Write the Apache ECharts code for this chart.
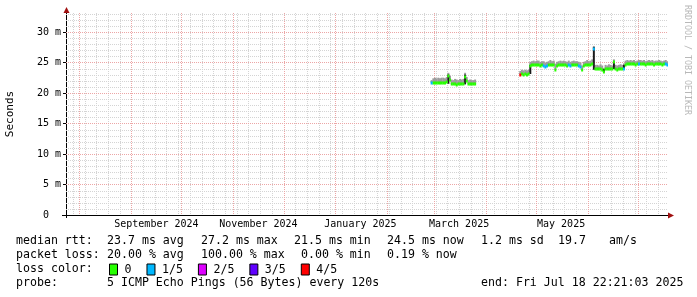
<!DOCTYPE html>
<html><head><meta charset="utf-8">
<script src="https://cdn.jsdelivr.net/npm/echarts@6/dist/echarts.min.js"></script>
<style>html,body{margin:0;padding:0;background:#fff}#c{width:697px;height:297px}</style>
</head><body><div id="c"></div>
<script>
const DAY = 86400000;
const ms = s => Date.parse(s + 'T00:00:00Z');
const xStart = Date.UTC(2024, 6, 23, 22, 21, 3);
const xEnd = Date.UTC(2025, 6, 18, 22, 21, 3);
const yMax = 33.1;

const yTicks = [0, 5, 10, 15, 20, 25, 30];
const yTickLabels = ['0  ', '5 m', '10 m', '15 m', '20 m', '25 m', '30 m'];
const monthLabels = ['September 2024', 'November 2024', 'January 2025', 'March 2025', 'May 2025'];
const monthLabelDates = ['2024-09-16', '2024-11-16', '2025-01-16', '2025-03-16', '2025-05-16'];
const monthLines = ['2024-08-01','2024-09-01','2024-10-01','2024-11-01','2024-12-01','2025-01-01',
  '2025-02-01','2025-03-01','2025-04-01','2025-05-01','2025-06-01','2025-07-01'];
const firstWeekLine = '2024-07-28';

// segment 1 : daily values from 2025-02-27 (ms)
const seg1Start = '2025-02-27';
const seg1Median = [21.6,21.7,21.6,21.7,21.6,21.6,21.7,21.6,21.7,21.8,22.8,22.1,21.5,21.4,21.5,21.3,21.4,21.5,21.4,21.5,22.6,21.9,21.5,21.5,21.4,21.5,21.5];
const seg1Max = [22.1,22.4,22.5,22.4,22.5,22.4,22.5,22.5,22.4,22.6,23.3,22.8,22.2,22.1,22.3,22.2,22.1,22.3,22.2,22.3,23.3,22.6,22.1,22.2,22.1,22.1,22.2];
const seg1Loss = [1,0,0,0,0,0,0,0,0,0,0,0,0,0,0,0,0,0,0,0,0,0,0,0,0,0,0];

// segment 2 : daily values from 2025-04-21 (ms)
const seg2Start = '2025-04-21';
const seg2Median = [23.0,23.1,23.0,23.1,23.0,23.1,
  24.4,
  24.5,24.6,24.5,24.6,24.5,24.4,24.5,24.4,24.3,24.4,24.5,24.6,24.5,24.5,23.8,24.4,24.5,24.6,24.5,24.6,24.5,24.4,24.5,24.4,24.5,24.6,24.5,24.5,24.4,24.3,23.7,24.4,24.5,24.6,24.5,24.6,24.7,
  27.2,
  24.0,23.9,23.9,24.0,23.8,23.4,23.9,23.9,24.0,23.9,23.9,25.0,23.9,23.8,23.9,24.0,23.9,
  24.0,
  24.6,24.7,24.7,24.8,24.7,24.7,24.6,24.7,24.7,24.8,24.7,24.7,24.6,24.7,24.8,24.7,24.7,24.6,24.7,24.7,24.8,24.7,24.6,24.7,24.7,24.5];
const seg2Max = [23.6,23.8,23.7,23.8,23.7,23.8,
  25.1,
  25.2,25.3,25.2,25.3,25.3,25.1,25.2,25.2,25.0,25.1,25.2,25.4,25.2,25.3,24.8,25.1,25.2,25.3,25.2,25.3,25.2,25.1,25.3,25.1,25.2,25.3,25.2,25.2,25.1,25.0,24.5,25.1,25.2,25.4,25.2,25.3,25.5,
  27.7,
  24.6,24.6,24.5,24.7,24.5,24.1,24.6,24.5,24.7,24.6,24.5,25.5,24.6,24.5,24.6,24.7,24.6,
  24.8,
  25.3,25.4,25.3,25.4,25.3,25.4,25.2,25.3,25.4,25.4,25.3,25.4,25.2,25.3,25.4,25.3,25.4,25.2,25.3,25.3,25.4,25.3,25.2,25.3,25.4,25.2];
const seg2Loss = [4,0,0,0,0,0,0,0,0,0,0,0,0,0,
  1,1,1,
  0,0,0,0,0,0,0,0,0,0,0,0,
  1,1,
  0,0,0,0,
  1,1,
  0,0,0,0,0,0,0,
  1,
  0,0,0,0,0,0,0,0,0,0,0,0,0,0,0,0,0,
  1,
  0,0,0,0,0,0,0,0,
  1,
  0,0,0,0,0,0,0,0,0,0,0,0,0,0,0,
  1,1];

// dense (dark) smoke columns
const darkDates = ['2025-03-09','2025-03-19','2025-04-27','2025-06-04','2025-06-10','2025-06-16','2025-06-22'];
const darkLow = [21.5, 21.4, 23.1, 23.8, 23.4, 23.9, 23.9];
const darkHigh = [23.0, 23.0, 24.6, 27.5, 23.9, 25.0, 24.6];

const lossNames = ['0', '1/5', '2/5', '3/5', '4/5'];
const lossColors = ['#26ff00', '#00b8ff', '#dd00ff', '#6000ff', '#ff0000'];

// ---- build ----
const points = [];
[[seg1Start, seg1Median, seg1Max, seg1Loss], [seg2Start, seg2Median, seg2Max, seg2Loss]].forEach(([s, med, mx, ls]) => {
  const t0 = ms(s);
  med.forEach((m, i) => points.push([t0 + i * DAY, m, mx[i], ls[i]]));
});
const darkData = darkDates.map((d, i) => [ms(d), darkLow[i], darkHigh[i]]);

const weekLines = [];
for (let t = ms(firstWeekLine); t < xEnd; t += 7 * DAY) weekLines.push([t, 0]);
const minorH = [];
for (let v = 1; v < yMax; v++) if (v % 5 !== 0) minorH.push([xStart, v]);
const majorH = yTicks.filter(v => v > 0).map(v => [xStart, v]);
const majorV = monthLines.map(d => [ms(d), 0]);

const FONT = '"DejaVu Sans Mono", monospace';
const MINOR = '#d4d4d4', MAJOR = '#eca6a6';

function vLine(color) {
  return function (params, api) {
    const cs = params.coordSys;
    const x = Math.round(api.coord([api.value(0), 0])[0]) + 0.5;
    return { type: 'line', shape: { x1: x, y1: cs.y, x2: x, y2: cs.y + cs.height },
      style: { stroke: color, lineWidth: 1, lineDash: [1, 1] } };
  };
}
function hLine(color) {
  return function (params, api) {
    const cs = params.coordSys;
    const y = Math.round(api.coord([xStart, api.value(1)])[1]) + 0.5;
    return { type: 'line', shape: { x1: cs.x, y1: y, x2: cs.x + cs.width, y2: y },
      style: { stroke: color, lineWidth: 1, lineDash: [1, 1] } };
  };
}
function bandItem(color) {
  return function (params, api) {
    const t = api.value(0);
    const a = api.coord([t, api.value(2)]);
    const b = api.coord([t + DAY, api.value(1)]);
    return { type: 'rect', shape: { x: a[0], y: a[1], width: b[0] - a[0] + 0.3, height: b[1] - a[1] },
      style: { fill: color } };
  };
}
function medianItem(color) {
  return function (params, api) {
    const t = api.value(0);
    const a = api.coord([t, api.value(1)]);
    const b = api.coord([t + DAY, api.value(1)]);
    return { type: 'rect', shape: { x: a[0], y: Math.round(a[1]) - 1.5, width: b[0] - a[0] + 0.3, height: 3 },
      style: { fill: color } };
  };
}

const series = [
  { type: 'custom', silent: true, renderItem: vLine(MINOR), data: weekLines },
  { type: 'custom', silent: true, renderItem: hLine(MINOR), data: minorH },
  { type: 'custom', silent: true, renderItem: vLine(MAJOR), data: majorV },
  { type: 'custom', silent: true, renderItem: hLine(MAJOR), data: majorH },
  { type: 'custom', silent: true, clip: true, renderItem: bandItem('#9c9c9c'), data: points.map(p => [p[0], p[1], p[2]]) },
  { type: 'custom', silent: true, clip: true, renderItem: bandItem('#1a1a1a'), data: darkData }
];
lossNames.forEach((name, k) => {
  series.push({ type: 'custom', name: name, silent: true, clip: true,
    itemStyle: { color: lossColors[k] },
    renderItem: medianItem(lossColors[k]),
    data: points.filter(p => p[3] === k).map(p => [p[0], p[1]]) });
});

const textStyle = { font: '11.6px ' + FONT, fill: '#000', verticalAlign: 'middle' };
const legendLines = [
  [241, [[16, 'median rtt:'], [107, '23.7 ms avg'], [201, '27.2 ms max'], [294, '21.5 ms min'], [387, '24.5 ms now'], [481, '1.2 ms sd'], [558, '19.7'], [609, 'am/s']]],
  [255, [[16, 'packet loss:'], [107, '20.00 % avg'], [201, '100.00 % max'], [301, '0.00 % min'], [387, '0.19 % now']]],
  [269, [[16, 'loss color:']]],
  [283, [[16, 'probe:'], [107, '5 ICMP Echo Pings (56 Bytes) every 120s'], [481, 'end: Fri Jul 18 22:21:03 2025']]]
];
const graphics = [];
legendLines.forEach(([y, items]) => items.forEach(([x, s]) => graphics.push({ type: 'text', x: x, y: y, silent: true, style: Object.assign({ text: s }, textStyle) })));
graphics.push({ type: 'text', x: 687, y: 60, rotation: -Math.PI / 2, silent: true,
  style: { text: 'RRDTOOL / TOBI OETIKER', font: '8.3px ' + FONT, fill: '#b8b8b8', align: 'center', verticalAlign: 'middle' } });
// axis lines with arrows
graphics.push({ type: 'line', silent: true, shape: { x1: 62, y1: 215.5, x2: 668, y2: 215.5 }, style: { stroke: '#000', lineWidth: 1 } });
graphics.push({ type: 'line', silent: true, shape: { x1: 66.5, y1: 218, x2: 66.5, y2: 12 }, style: { stroke: '#000', lineWidth: 1 } });
graphics.push({ type: 'polygon', silent: true, shape: { points: [[668, 212.5], [674, 215.5], [668, 218.5]] }, style: { fill: '#a01010' } });
graphics.push({ type: 'polygon', silent: true, shape: { points: [[63.5, 13], [66.5, 7], [69.5, 13]] }, style: { fill: '#a01010' } });

const chart = echarts.init(document.getElementById('c'), null, { renderer: 'canvas' });
chart.setOption({
  animation: false,
  backgroundColor: '#ffffff',
  grid: { left: 66, right: 29, top: 13, bottom: 82, outerBoundsMode: 'none', containLabel: false },
  xAxis: {
    type: 'value', min: xStart, max: xEnd,
    axisLine: { show: false }, axisTick: { show: false }, splitLine: { show: false },
    axisLabel: {
      customValues: monthLabelDates.map(ms),
      formatter: v => { const i = monthLabelDates.map(ms).indexOf(v); return i >= 0 ? monthLabels[i] : ''; },
      fontFamily: FONT, fontSize: 10, color: '#000', margin: 4, hideOverlap: false
    }
  },
  yAxis: {
    type: 'value', min: 0, max: yMax, interval: 5,
    name: 'Seconds', nameLocation: 'middle', nameGap: 50,
    nameTextStyle: { fontFamily: FONT, fontSize: 11, color: '#000' },
    axisLine: { show: false },
    axisTick: { show: true, length: 3, customValues: yTicks, lineStyle: { color: '#000' } },
    splitLine: { show: false },
    axisLabel: {
      customValues: yTicks,
      formatter: v => { const i = yTicks.indexOf(v); return i >= 0 ? yTickLabels[i] : ''; },
      fontFamily: FONT, fontSize: 10, color: '#000', margin: 5
    }
  },
  legend: {
    left: 109, top: 263.5, padding: 0, icon: 'rect', itemWidth: 8, itemHeight: 11, itemGap: 15,
    selectedMode: false, data: lossNames,
    itemStyle: { borderColor: '#000', borderWidth: 1 },
    textStyle: { fontFamily: FONT, fontSize: 11.6, color: '#000', padding: [0, 0, 0, 2] }
  },
  graphic: graphics,
  series: series
});
</script></body></html>
